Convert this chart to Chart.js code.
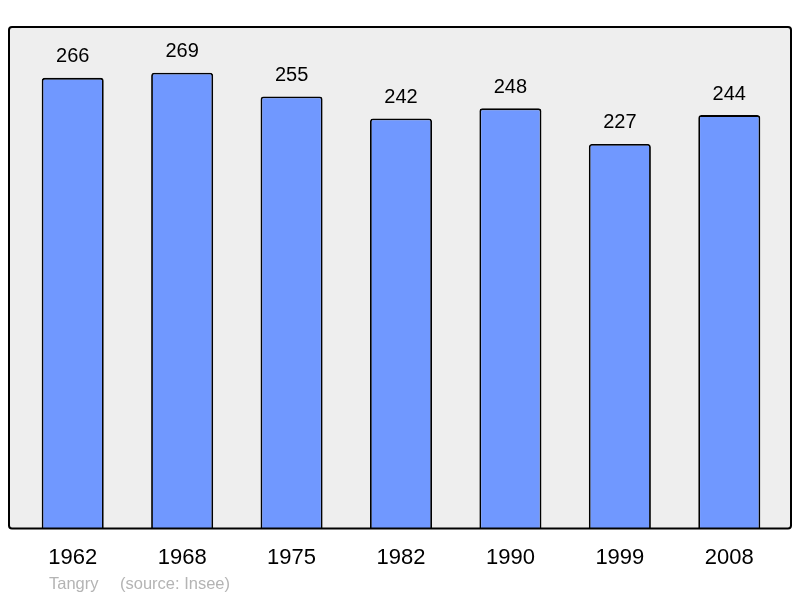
<!DOCTYPE html>
<html><head><meta charset="utf-8">
<script src="https://cdn.jsdelivr.net/npm/chart.js@4/dist/chart.umd.min.js"></script>
<style>html,body{margin:0;padding:0;background:#fff}#w{width:800px;height:598px}</style>
</head><body><div id="w"><canvas id="c" width="800" height="598"></canvas></div>
<script>
const categories = ["1962","1968","1975","1982","1990","1999","2008"];
const population = [266,269,255,242,248,227,244];
const footerName = "Tangry";
const footerSource = "(source: Insee)";

const boxPlugin = {
  id:'box',
  beforeDraw(chart){
    const {ctx, chartArea:a} = chart;
    const l=a.left-9, r=a.right+7, t=a.top, b=a.bottom;
    ctx.save();
    ctx.beginPath();
    ctx.roundRect(l,t,r-l,b-t,3);
    ctx.fillStyle='#eeeeee';ctx.fill();
    ctx.restore();
  },
  afterDatasetsDraw(chart){
    const {ctx, chartArea:a} = chart;
    const l=a.left-9, r=a.right+7, t=a.top, b=a.bottom;
    ctx.save();
    ctx.beginPath();
    ctx.roundRect(l,t,r-l,b-t,3);
    ctx.lineWidth=2;ctx.strokeStyle='#000';ctx.stroke();
    const meta=chart.getDatasetMeta(0);
    ctx.fillStyle='#000';ctx.font='20px "Liberation Sans", Arial, sans-serif';
    ctx.textAlign='center';ctx.textBaseline='middle';
    meta.data.forEach((bar,i)=>{ctx.fillText(String(population[i]), bar.x, bar.y-21);});
    ctx.fillStyle='#b4b4b4';ctx.font='16.5px "Liberation Sans", Arial, sans-serif';
    ctx.textAlign='left';
    ctx.fillText(footerName, 49, 584);
    ctx.fillText(footerSource, 120, 584);
    ctx.restore();
  }
};

new Chart(document.getElementById('c'),{
  type:'bar',
  data:{labels:categories,datasets:[{data:population,backgroundColor:'#7098ff',borderColor:'#000',borderWidth:1.8,borderRadius:3,borderSkipped:'bottom',barPercentage:0.567,categoryPercentage:1}]},
  options:{
    responsive:false,animation:false,
    layout:{padding:{left:18,right:16,top:27,bottom:19}},
    plugins:{legend:{display:false},tooltip:{enabled:false}},
    scales:{
      x:{grid:{display:false},border:{display:false},ticks:{color:'#000',padding:8,font:{size:22,family:'"Liberation Sans", Arial, sans-serif'}}},
      y:{display:false,min:0,max:296}
    }
  },
  plugins:[boxPlugin]
});
</script></body></html>
